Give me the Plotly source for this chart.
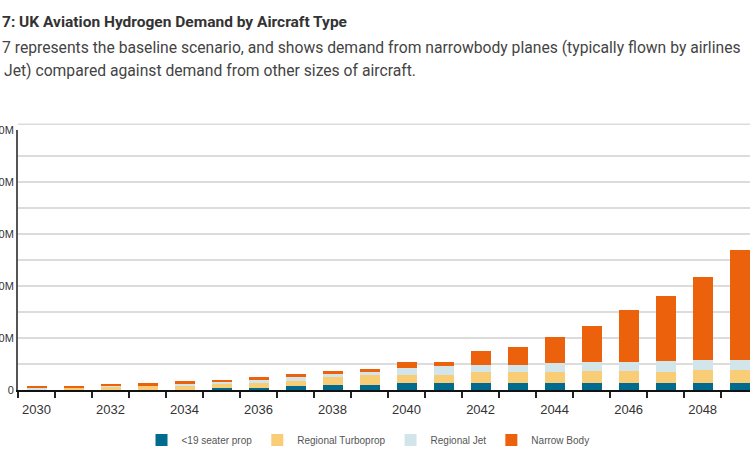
import plotly.graph_objects as go

# ---- data (millions) ----
years = list(range(2030, 2050))
seater_prop = [0, 0, 0, 0, 0, 0.32, 0.32, 0.70, 0.90, 0.90, 1.28, 1.28, 1.28, 1.28, 1.28, 1.28, 1.28, 1.28, 1.28, 1.28]
regional_turboprop = [0, 0.45, 0.64, 0.83, 0.90, 0.96, 1.09, 1.09, 1.54, 1.92, 1.54, 1.54, 2.12, 2.12, 2.12, 2.31, 2.31, 2.12, 2.50, 2.50]
regional_jet = [0.45, 0, 0.20, 0.06, 0.35, 0.38, 0.64, 0.77, 0.77, 0.70, 1.35, 1.80, 1.41, 1.35, 1.73, 1.73, 1.73, 2.12, 1.92, 1.92]
narrow_body = [0.25, 0.26, 0.13, 0.38, 0.42, 0.19, 0.38, 0.45, 0.38, 0.45, 1.15, 0.70, 2.63, 3.46, 5.00, 6.92, 10.00, 12.50, 15.96, 21.15]

series_names = ["<19 seater prop", "Regional Turboprop", "Regional Jet", "Narrow Body"]
series_values = [seater_prop, regional_turboprop, regional_jet, narrow_body]
series_colors = ["#006b8f", "#f9cd76", "#d2e5eb", "#ec610c"]

y_tick_vals = [0, 10, 20, 30, 40, 50]
y_tick_text = ["0", "0M", "0M", "0M", "0M", "0M"]
x_label_years = [y for y in years if y % 2 == 0]

title_text = "7: UK Aviation Hydrogen Demand by Aircraft Type"
sub_line1 = "7 represents the baseline scenario, and shows demand from narrowbody planes (typically flown by airlines"
sub_line2 = "Jet) compared against demand from other sizes of aircraft."

W, H = 750, 463
L, R, T, B = 18, 0, 130, 73
plot_w = W - L - R
plot_h = H - T - B


def px_x(px):
    return (px - L) / plot_w


def px_y(py):
    return (H - B - py) / plot_h


fig = go.Figure()
for name, vals, col in zip(series_names, series_values, series_colors):
    fig.add_trace(go.Bar(x=years, y=vals, name=name, marker=dict(color=col, line=dict(width=0)),
                         width=0.54))

fig.update_layout(
    width=W, height=H,
    margin=dict(l=L, r=R, t=T, b=B, autoexpand=False),
    barmode="stack",
    plot_bgcolor="white", paper_bgcolor="white",
    font=dict(family="Liberation Sans, Arial, sans-serif", color="#333"),
    showlegend=True,
    legend=dict(orientation="h", x=px_x(368), xanchor="center", y=px_y(440), yanchor="middle",
                font=dict(size=10, color="#555"), traceorder="normal", itemwidth=30),
)

fig.update_xaxes(
    range=[2029.5, 2049.28],
    tickmode="array", tickvals=x_label_years, ticktext=[str(v) for v in x_label_years],
    ticks="outside", ticklen=6, tickcolor="rgba(0,0,0,0)",
    tickfont=dict(size=13, color="#333"),
    showline=True, linecolor="#111", linewidth=2,
    showgrid=False, zeroline=False, automargin=False,
    minor=dict(dtick=1, tick0=2029.5, ticks="outside", ticklen=6, tickcolor="#222", tickwidth=2, showgrid=False),
)

fig.update_yaxes(
    range=[0, 50],
    tickmode="array", tickvals=y_tick_vals, ticktext=y_tick_text,
    ticks="", ticklen=0, tickfont=dict(size=11, color="#333"), ticklabelstandoff=0,
    showline=True, linecolor="#555", linewidth=2,
    showgrid=False, zeroline=False, automargin=False,
    minor=dict(tickvals=[v for v in range(5, 50, 5)], showgrid=True, gridcolor="#dcdcdc", gridwidth=1.5, ticks=""),
)

# panel top border line
fig.add_shape(type="line", xref="paper", yref="paper", x0=0, x1=1, y0=px_y(124.3), y1=px_y(124.3),
              line=dict(color="#dcdcdc", width=1.5))

head_font = "Roboto, Liberation Sans, sans-serif"
fig.add_annotation(text="<b>" + title_text + "</b>", xref="paper", yref="paper", x=px_x(0), y=px_y(22),
                   xanchor="left", yanchor="middle", showarrow=False,
                   font=dict(family=head_font, size=15.5, color="#333"))
fig.add_annotation(text=sub_line1, xref="paper", yref="paper", x=px_x(0), y=px_y(47),
                   xanchor="left", yanchor="middle", showarrow=False,
                   font=dict(family=head_font, size=15.7, color="#444"))
fig.add_annotation(text=sub_line2, xref="paper", yref="paper", x=px_x(2), y=px_y(71),
                   xanchor="left", yanchor="middle", showarrow=False,
                   font=dict(family=head_font, size=15.7, color="#444"))

fig.write_html("out.html", config={"displayModeBar": False},
               post_script="document.body.style.margin='0';")
